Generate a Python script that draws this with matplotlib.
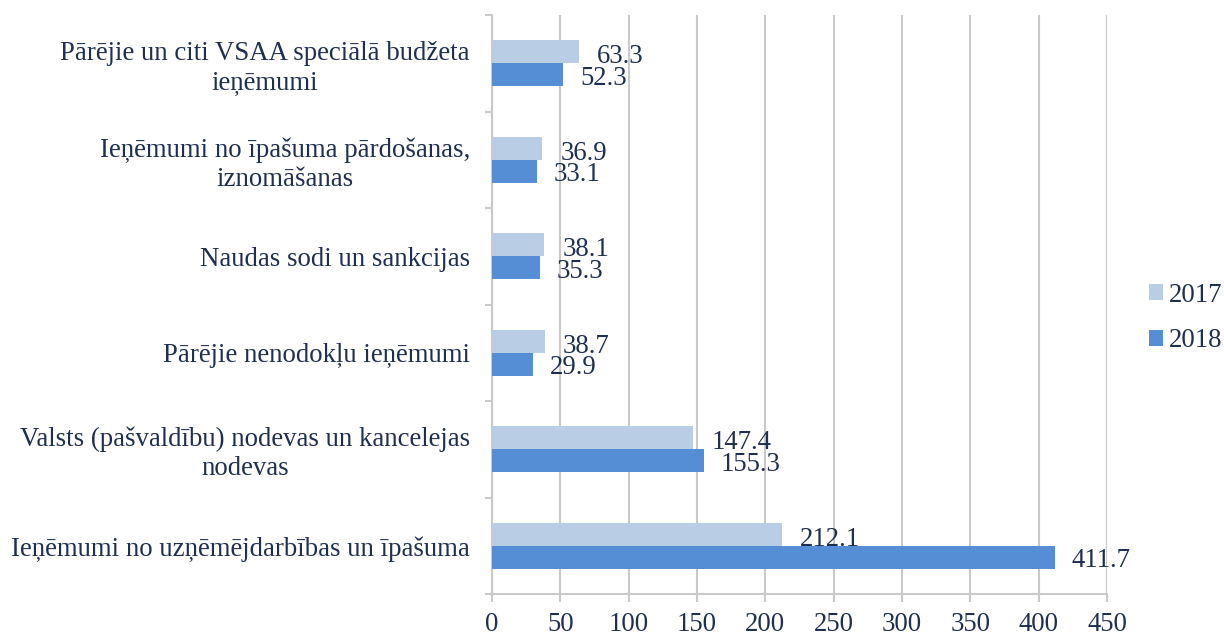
import matplotlib
matplotlib.use("Agg")
import matplotlib.pyplot as plt
from matplotlib.patches import Patch
import numpy as np

categories = [
    "Pārējie un citi VSAA speciālā budžeta\nieņēmumi",
    "Ieņēmumi no īpašuma pārdošanas,\niznomāšanas",
    "Naudas sodi un sankcijas",
    "Pārējie nenodokļu ieņēmumi",
    "Valsts (pašvaldību) nodevas un kancelejas\nnodevas",
    "Ieņēmumi no uzņēmējdarbības un īpašuma",
]
v2017 = [63.3, 36.9, 38.1, 38.7, 147.4, 212.1]
v2018 = [52.3, 33.1, 35.3, 29.9, 155.3, 411.7]
series_names = ["2017", "2018"]
xticks = [0, 50, 100, 150, 200, 250, 300, 350, 400, 450]

c17 = "#B9CDE5"
c18 = "#558ED5"
txt = "#1F2F4F"
grid = "#C9C9C9"
fs = 19.3

plt.rcParams["font.family"] = ["Liberation Serif", "DejaVu Serif"]

fig = plt.figure(figsize=(12.24, 6.36), dpi=100)
ax = fig.add_axes([492/1224, 1-594/636, (1107-492)/1224, (594-15)/636])

n = len(categories)
y = np.arange(n)
h = 0.24
ax.barh(y - h/2, v2017, height=h, color=c17, zorder=3)
ax.barh(y + h/2, v2018, height=h, color=c18, zorder=3)

for i in range(n):
    ax.annotate(f"{v2017[i]:.1f}", (v2017[i], y[i] - h/2), xytext=(13, -3.5),
                textcoords="offset points", ha="left", va="center",
                fontsize=fs, color=txt, zorder=4)
    ax.annotate(f"{v2018[i]:.1f}", (v2018[i], y[i] + h/2), xytext=(12, -2.5),
                textcoords="offset points", ha="left", va="center",
                fontsize=fs, color=txt, zorder=4)

ax.set_ylim(n - 0.5, -0.5)
ax.set_xlim(0, 450)
ax.set_xticks(xticks)
ax.set_xticklabels([str(t) for t in xticks])
ax.set_yticks(y)
ax.set_yticklabels(categories)
for lab in ax.get_yticklabels():
    lab.set_multialignment("center")
ax.set_yticks(np.arange(-0.5, n, 1.0), minor=True)

ax.tick_params(axis="y", which="major", length=0, pad=16, labelsize=fs, labelcolor=txt)
ax.tick_params(axis="y", which="minor", length=5, width=1.5, color=grid, direction="out")
ax.tick_params(axis="x", which="major", length=6, width=1.5, color=grid, pad=7,
               labelsize=fs, labelcolor=txt)

ax.grid(axis="x", color=grid, linewidth=1.5, zorder=0)
ax.set_axisbelow(True)
for s in ["top", "right"]:
    ax.spines[s].set_visible(False)
for s in ["left", "bottom"]:
    ax.spines[s].set_color(grid)
    ax.spines[s].set_linewidth(1.5)

handles = [Patch(facecolor=c17, edgecolor="none"), Patch(facecolor=c18, edgecolor="none")]
fig.legend(handles, series_names, loc="center left",
           bbox_to_anchor=(1149/1224, 1-318/636), frameon=False,
           borderpad=0, borderaxespad=0,
           fontsize=fs, labelcolor=txt, handlelength=0.52, handleheight=0.52,
           handletextpad=0.22, labelspacing=0.78)

fig.savefig("out.png", dpi=100)
